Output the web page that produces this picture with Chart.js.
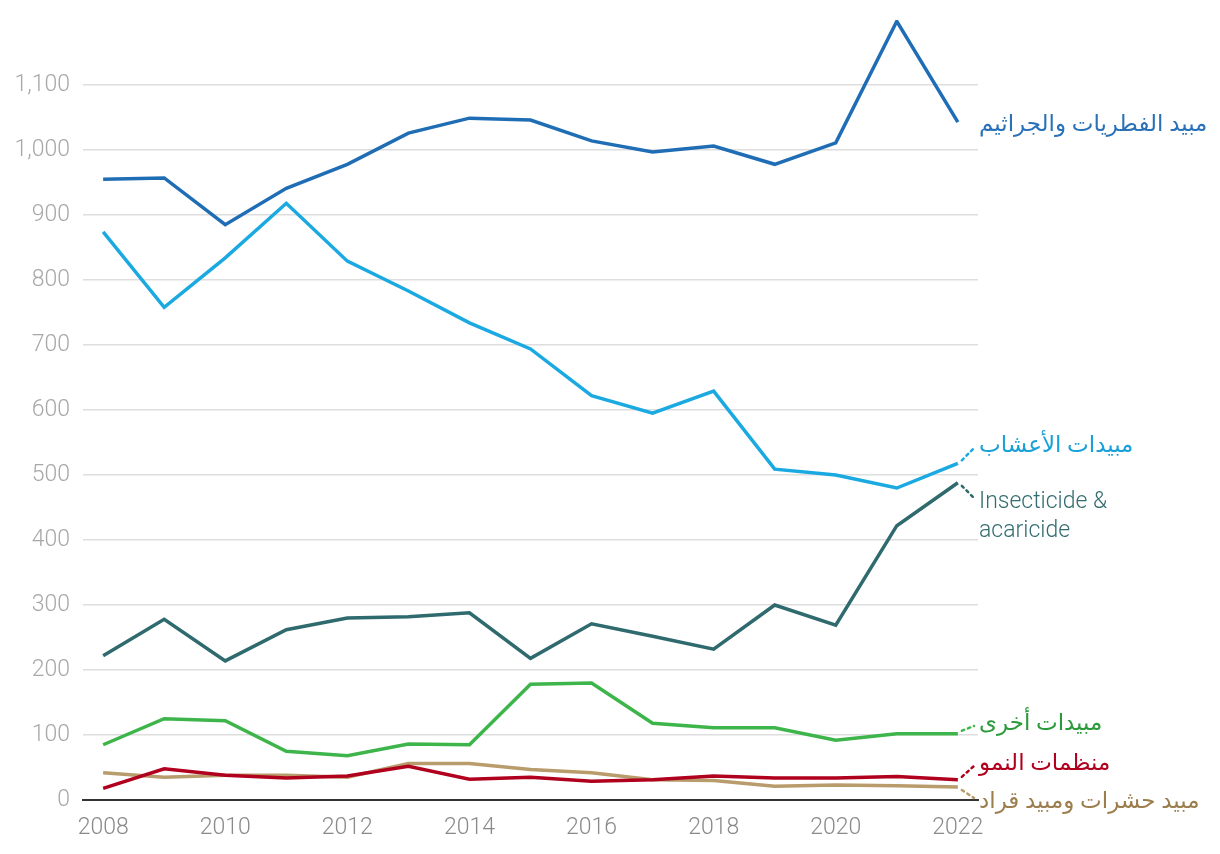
<!DOCTYPE html>
<html><head><meta charset="utf-8">
<script src="https://cdn.jsdelivr.net/npm/chart.js@4"></script>
<style>html,body{margin:0;padding:0;background:#fff}#wrap{width:1220px;height:854px}</style>
</head><body><div id="wrap"><canvas id="c" width="1220" height="854"></canvas></div>
<script>
const years = [2008,2009,2010,2011,2012,2013,2014,2015,2016,2017,2018,2019,2020,2021,2022];
const yTicks = [0,100,200,300,400,500,600,700,800,900,1000,1100];
const fungicide = [955,957,885,941,978,1026,1049,1046,1014,997,1006,978,1011,1198,1043];
const herbicide = [874,758,834,918,829,783,734,694,622,595,629,509,500,480,518];
const insecticide = [222,278,214,262,280,282,288,218,271,252,232,300,269,422,488];
const other = [85,125,122,75,68,86,85,178,180,118,111,111,92,102,102];
const growth = [18,48,38,34,37,52,32,35,29,31,37,34,34,36,31];
const insectAcar = [42,35,38,38,35,56,56,47,42,31,30,21,23,22,20];
const names = ['مبيد الفطريات والجراثيم','مبيدات الأعشاب',['Insecticide &','acaricide'],'مبيدات أخرى','منظمات النمو','مبيد حشرات ومبيد قراد'];

const series = [fungicide, herbicide, insecticide, other, growth, insectAcar];
const colors = ['#1f6db5','#1aa9e1','#2e6a6e','#3db54a','#b0001e','#b89c6c'];
const labelColors = ['#2a72b8','#1aa0d8','#336d70','#2a9a3a','#b0001e','#9c7e4e'];
const labelY = [125, 446, 502, 724, 764, 802];
const connect = [false, true, true, true, true, true];
const FONT = "Roboto, 'DejaVu Sans', sans-serif";

const labelPlugin = {
  id:'labels',
  afterDatasetsDraw(chart){
    const ctx = chart.ctx, xs = chart.scales.x, ys = chart.scales.y;
    const lx = xs.right + 1;
    series.forEach((d,i)=>{
      const px = xs.getPixelForValue(years[years.length-1]);
      const py = ys.getPixelForValue(d[d.length-1]);
      ctx.save();
      if(connect[i]){
        ctx.strokeStyle = colors[i];
        ctx.lineWidth = 2.5;
        ctx.setLineDash([2.5,4]);
        ctx.lineCap = 'round';
        ctx.beginPath();
        const down = labelY[i] > py;
        ctx.moveTo(px+4, py + (down ? 3 : -3));
        ctx.lineTo(lx-5, labelY[i] + (down ? -4 : 2));
        ctx.stroke();
        ctx.setLineDash([]);
      }
      ctx.fillStyle = labelColors[i];
      ctx.textBaseline = 'middle';
      ctx.textAlign = 'left';
      const t = names[i];
      if(Array.isArray(t)){
        ctx.font = "300 23px " + FONT;
        t.forEach((s,k)=>ctx.fillText(s, lx, labelY[i] + k*29));
      } else {
        ctx.font = "23px " + FONT;
        ctx.fillText(t, lx, labelY[i]);
      }
      ctx.restore();
    });
  }
};

new Chart(document.getElementById('c'), {
  type:'line',
  data:{
    datasets: series.map((d,i)=>({
      data: d.map((v,k)=>({x:years[k], y:v})),
      borderColor: colors[i],
      borderWidth: 3.5,
      pointRadius: 0,
      tension: 0,
      fill:false,
      order: i===4 ? 0 : i+1
    }))
  },
  options:{
    responsive:false,
    animation:false,
    layout:{padding:{top:20,right:242,left:0,bottom:0}},
    plugins:{legend:{display:false}, tooltip:{enabled:false}},
    scales:{
      x:{
        type:'linear', min:2007.67, max:2022.33,
        afterBuildTicks(s){ s.ticks = years.filter(y=>y%2===0).map(v=>({value:v})); },
        afterFit(s){ s.height = 54; s.paddingLeft = 0; s.paddingRight = 0; },
        grid:{display:false},
        border:{display:true, color:'#333', width:2},
        ticks:{color:'#8a8a8a', font:{size:23, family:FONT, weight:300}, padding:6, maxRotation:0,
          callback:v=>String(v)}
      },
      y:{
        min:0, max:1200,
        afterBuildTicks(s){ s.ticks = yTicks.map(v=>({value:v})); },
        afterFit(s){ s.width = 83; s.paddingTop = 0; s.paddingBottom = 0; },
        grid:{color:ctx=> ctx.tick && ctx.tick.value===0 ? 'rgba(0,0,0,0)' : '#dedede', lineWidth:1.5, drawTicks:false},
        border:{display:false},
        ticks:{color:'#a8a8a8', font:{size:23, family:FONT, weight:300}, padding:13,
          callback:v=>v.toLocaleString('en-US')}
      }
    }
  },
  plugins:[labelPlugin]
});
</script></body></html>
